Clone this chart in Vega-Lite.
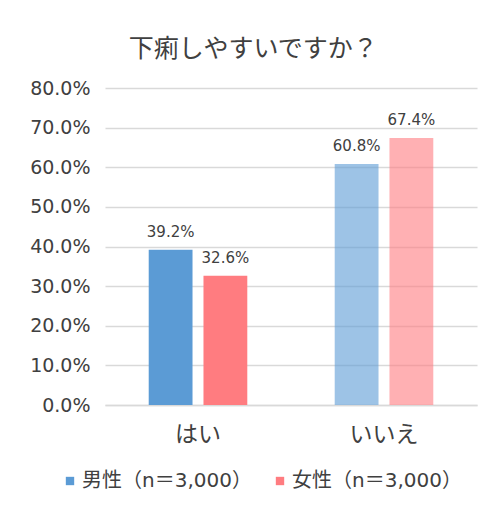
{
  "$schema": "https://vega.github.io/schema/vega-lite/v6.json",
  "width": 372,
  "height": 317,
  "autosize": {"type": "none"},
  "padding": {"left": 105, "top": 88, "right": 20, "bottom": 104},
  "background": "white",
  "config": {"view": {"stroke": null}},
  "title": {
    "text": "下痢しやすいですか？",
    "frame": "bounds",
    "anchor": "middle",
    "fontSize": 25,
    "fontWeight": "normal",
    "color": "#404040",
    "font": "Noto Sans CJK JP",
    "offset": 17
  },
  "data": {
    "values": [
      {"answer": "はい", "gender": "男性（n＝3,000）", "value": 0.392},
      {"answer": "はい", "gender": "女性（n＝3,000）", "value": 0.326},
      {"answer": "いいえ", "gender": "男性（n＝3,000）", "value": 0.608},
      {"answer": "いいえ", "gender": "女性（n＝3,000）", "value": 0.674}
    ]
  },
  "encoding": {
    "x": {
      "field": "answer",
      "type": "nominal",
      "sort": ["はい", "いいえ"],
      "scale": {"paddingInner": 0.47, "paddingOuter": 0.235},
      "axis": {
        "title": null,
        "labelAngle": 0,
        "labelFontSize": 23,
        "labelColor": "#404040",
        "labelFont": "Noto Sans CJK JP",
        "labelPadding": 18,
        "ticks": false,
        "domainColor": "#d9d9d9",
        "domainWidth": 1.5
      }
    },
    "xOffset": {
      "field": "gender",
      "type": "nominal",
      "sort": ["男性（n＝3,000）", "女性（n＝3,000）"],
      "scale": {"paddingInner": 0.2}
    },
    "y": {
      "field": "value",
      "type": "quantitative",
      "scale": {"domain": [0, 0.8]},
      "axis": {
        "title": null,
        "format": ".1%",
        "values": [0, 0.1, 0.2, 0.3, 0.4, 0.5, 0.6, 0.7, 0.8],
        "labelOverlap": false,
        "labelFontSize": 19,
        "labelColor": "#404040",
        "labelFont": "DejaVu Sans",
        "labelPadding": 15,
        "ticks": false,
        "domain": false,
        "gridColor": "#d9d9d9",
        "gridWidth": 1.5
      }
    }
  },
  "layer": [
    {
      "mark": {"type": "bar"},
      "encoding": {
        "color": {
          "field": "gender",
          "type": "nominal",
          "sort": ["男性（n＝3,000）", "女性（n＝3,000）"],
          "scale": {"domain": ["男性（n＝3,000）", "女性（n＝3,000）"], "range": ["#5B9BD5", "#FF7C80"]},
          "legend": {
            "title": null,
            "orient": "none",
            "legendX": -45,
            "legendY": 383,
            "direction": "horizontal",
            "symbolType": "square",
            "symbolSize": 70,
            "symbolStrokeWidth": 0,
            "labelFontSize": 20,
            "labelLimit": 0,
            "labelColor": "#404040",
            "labelFont": "DejaVu Sans, Noto Sans CJK JP",
            "columnPadding": 18,
            "labelOffset": 2
          }
        },
        "opacity": {
          "field": "answer",
          "type": "nominal",
          "scale": {"domain": ["はい", "いいえ"], "range": [1, 0.6]},
          "legend": null
        }
      }
    },
    {
      "mark": {"type": "text", "dy": -18, "fontSize": 15, "color": "#404040", "font": "DejaVu Sans"},
      "encoding": {
        "text": {"field": "value", "type": "quantitative", "format": ".1%"}
      }
    }
  ]
}
